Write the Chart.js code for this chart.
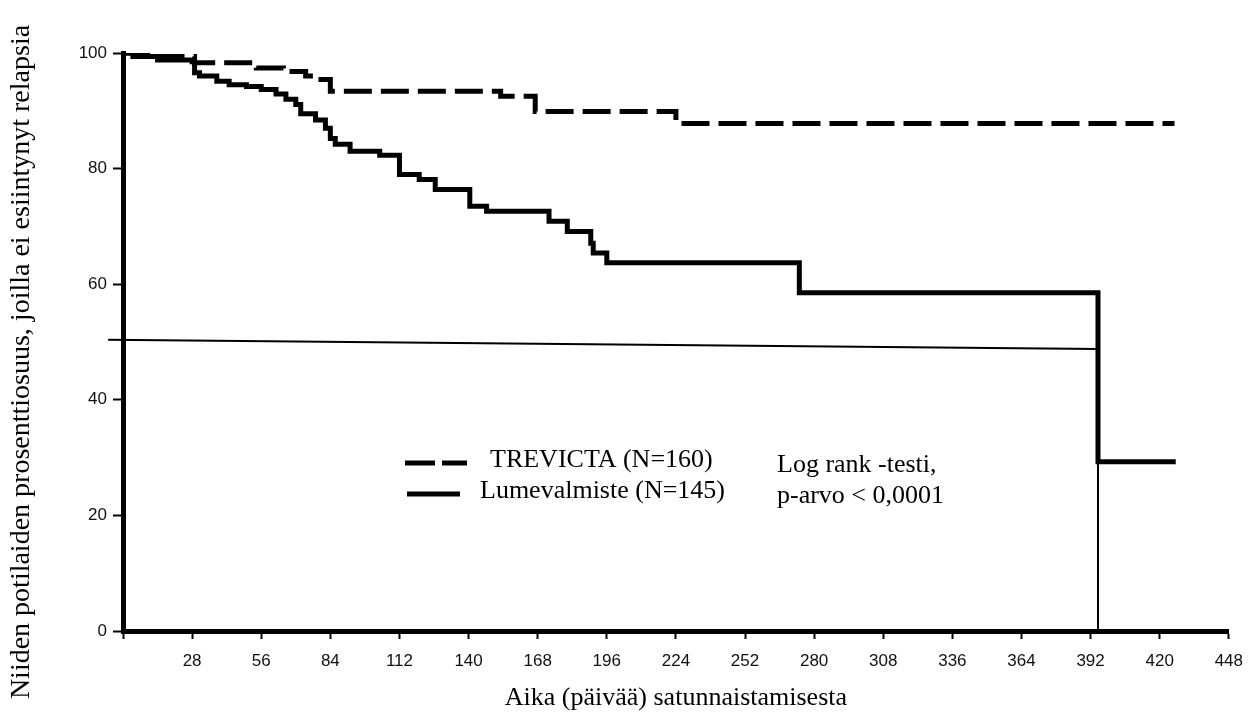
<!DOCTYPE html>
<html>
<head>
<meta charset="utf-8">
<script src="https://cdn.jsdelivr.net/npm/chart.js@4"></script>
<style>
  body { margin: 0; background: #fff; }
  #wrap { width: 1255px; height: 714px; position: relative; }
</style>
</head>
<body>
<div id="wrap"><canvas id="km"></canvas></div>
<script>
// Kaplan-Meier -käyrät, luettu kuvasta (päivä, % ilman relapsia)
const trevictaDays = [0, 10, 29, 54, 65, 74, 77, 84, 153, 167, 224, 426];
const trevictaPct  = [100, 99.4, 98.3, 97.4, 96.8, 96.0, 95.4, 93.4, 92.5, 89.9, 87.8, 87.8];

const placeboDays = [0, 4, 14, 28, 29, 31, 38, 43, 50, 56, 62, 66, 70, 72, 78, 82, 84, 86, 92, 104,
                     112, 120, 126.5, 140.5, 147.3, 172.6, 180, 189.5, 190.5, 196, 274, 395, 426.5];
const placeboPct  = [100, 99.4, 98.8, 98.5, 96.6, 96.0, 95.1, 94.5, 94.2, 93.7, 92.9, 92.0, 91.1, 89.5, 88.4, 87.0, 85.2, 84.2, 83.0, 82.3,
                     79.0, 78.1, 76.4, 73.5, 72.6, 70.9, 69.1, 67.1, 65.4, 63.7, 58.5, 29.3, 29.3];

// ohut apuviiva
const medianDays = [-6, 395, 395];
const medianPct  = [50.4, 48.8, 0];

const seriesLabels = ['TREVICTA (N=160)', 'Lumevalmiste (N=145)'];
const noteLines = ['Log rank -testi,', 'p-arvo < 0,0001'];

const xTitle = 'Aika (päivää) satunnaistamisesta';
const yTitle = 'Niiden potilaiden prosenttiosuus, joilla ei esiintynyt relapsia';

const SERIF = '"Liberation Serif", "Times New Roman", serif';
const SANS = '"Liberation Sans", Arial, sans-serif';

const toPoints = (xs, ys) => xs.map((x, i) => ({ x: x, y: ys[i] }));

const annotations = {
  id: 'annotations',
  afterDraw(chart) {
    const ctx = chart.ctx;
    const ds = chart.data.datasets;
    ctx.save();
    ctx.strokeStyle = '#000';
    ctx.fillStyle = '#000';
    ctx.font = '26px ' + SERIF;
    ctx.textBaseline = 'alphabetic';

    // selite
    ctx.lineWidth = 5;
    ctx.setLineDash([30, 7]);
    ctx.beginPath(); ctx.moveTo(405, 463); ctx.lineTo(467, 463); ctx.stroke();
    ctx.setLineDash([]);
    ctx.beginPath(); ctx.moveTo(407, 494); ctx.lineTo(460, 494); ctx.stroke();
    ctx.fillText(ds[0].label, 490, 467);
    ctx.fillText(ds[1].label, 480, 498);

    noteLines.forEach((t, i) => ctx.fillText(t, 777, 472 + i * 31));

    // y-akselin otsikko
    ctx.translate(22, 362);
    ctx.rotate(-Math.PI / 2);
    ctx.font = '28px ' + SERIF;
    ctx.textAlign = 'center';
    ctx.textBaseline = 'middle';
    ctx.fillText(yTitle, 0, 0);
    ctx.restore();
  }
};

new Chart(document.getElementById('km'), {
  type: 'line',
  data: {
    datasets: [
      {
        label: seriesLabels[0],
        data: toPoints(trevictaDays, trevictaPct),
        borderColor: '#000',
        borderWidth: 5,
        borderDash: [28, 9],
        stepped: 'before',
        pointRadius: 0,
        fill: false
      },
      {
        label: seriesLabels[1],
        data: toPoints(placeboDays, placeboPct),
        borderColor: '#000',
        borderWidth: 5,
        stepped: 'before',
        pointRadius: 0,
        fill: false
      },
      {
        label: 'mediaani',
        data: toPoints(medianDays, medianPct),
        borderColor: '#000',
        borderWidth: 2,
        pointRadius: 0,
        fill: false,
        clip: false
      }
    ]
  },
  options: {
    responsive: true,
    maintainAspectRatio: false,
    animation: false,
    layout: { padding: { top: 53, right: 16, left: 0, bottom: 0 } },
    plugins: {
      legend: { display: false },
      tooltip: { enabled: false }
    },
    scales: {
      x: {
        type: 'linear',
        min: 0,
        max: 448,
        afterFit: s => { s.height = 83; },
        border: { display: true, color: '#000', width: 5 },
        grid: { drawOnChartArea: false, drawTicks: true, tickLength: 8, tickWidth: 2, tickColor: '#000' },
        ticks: {
          stepSize: 28,
          padding: 12,
          color: '#111',
          font: { family: SANS, size: 17 },
          maxRotation: 0,
          autoSkip: false,
          callback: v => (v === 0 ? '' : v)
        },
        title: {
          display: true,
          text: xTitle,
          color: '#000',
          font: { family: SERIF, size: 26 },
          padding: { top: 0, bottom: 0 }
        }
      },
      y: {
        min: 0,
        max: 100,
        afterFit: s => { s.width = 123; },
        border: { display: true, color: '#000', width: 5 },
        grid: { drawOnChartArea: false, drawTicks: true, tickLength: 10, tickWidth: 2, tickColor: '#000' },
        ticks: {
          stepSize: 20,
          padding: 6,
          color: '#111',
          font: { family: SANS, size: 17 }
        }
      }
    }
  },
  plugins: [annotations]
});
</script>
</body>
</html>
